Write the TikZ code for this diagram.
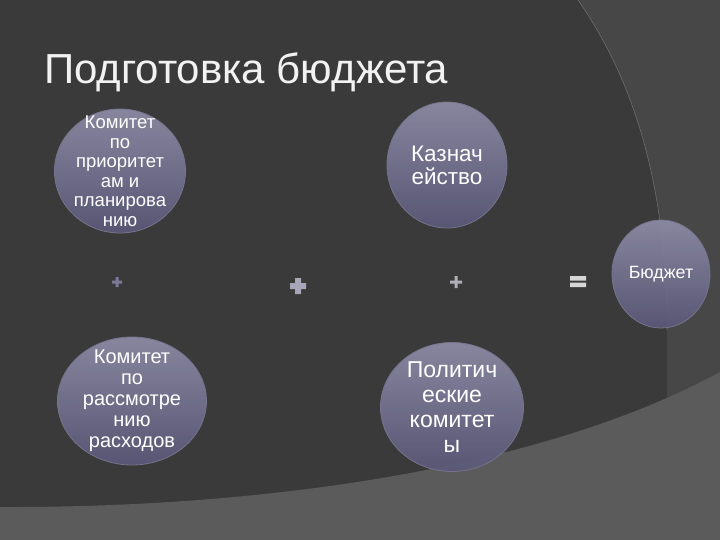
\documentclass[tikz,border=0pt]{standalone}
\usepackage{fontspec}
\setmainfont{Liberation Sans}
\usetikzlibrary{shapes.geometric}

\definecolor{slidebg}{RGB}{58,58,58}
\definecolor{bandcol}{RGB}{71,71,71}
\definecolor{floorcol}{RGB}{91,91,91}
\definecolor{bubtop}{RGB}{142,140,166}
\definecolor{bubmid}{RGB}{108,106,138}
\definecolor{bubbot}{RGB}{90,88,120}
\definecolor{bubrim}{RGB}{118,116,140}

\tikzset{
  bubble/.style={ellipse, draw=bubrim, line width=0.8pt, top color=bubtop,
    middle color=bubmid, bottom color=bubbot, fill opacity=0.93, inner sep=0pt},
  bubtext/.style={align=center, text=white, inner sep=0pt},
}

\begin{document}
\begin{tikzpicture}[x=1pt, y=-1pt]
\useasboundingbox (0,0) rectangle (720,540);

% background
\fill[slidebg] (0,0) rectangle (720,540);
\fill[bandcol] (578,0) .. controls (648,100) and (667,220) .. (667,330) -- (667,430) -- (720,430) -- (720,0) -- cycle;
\draw[color=bandcol!80!white, line width=0.6pt] (578,0) .. controls (648,100) and (667,220) .. (667,330);
\fill[floorcol] (0,507) .. controls (260,508) and (540,470) .. (720,372) -- (720,540) -- (0,540) -- cycle;

\node[anchor=base west, text=white!95!black, font=\fontsize{42}{50}\selectfont, inner sep=0pt] at (44,84) (title) {Подготовка бюджета};

\node[bubble, minimum width=131pt, minimum height=124pt] at (120,171) (prio) {};
\node[bubble, minimum width=120pt, minimum height=126pt] at (447,165) (treas) {};
\node[bubble, minimum width=98pt, minimum height=108pt] at (661,274) (budget) {};
\node[bubble, minimum width=149pt, minimum height=128pt] at (132,401) (spend) {};
\node[bubble, minimum width=143pt, minimum height=129pt] at (452,407) (polit) {};

\node[bubtext, font=\fontsize{18.5}{19.5}\selectfont] at (prio) (priotxt) {Комитет\\по\\приоритет\\ам и\\планирова\\нию};
\node[bubtext, font=\fontsize{22.5}{23}\selectfont] at (treas) (treastxt) {Казнач\\ейство};
\node[bubtext, font=\fontsize{17.8}{20}\selectfont] at (budget) (budgettxt) {Бюджет};
\node[bubtext, font=\fontsize{20}{21}\selectfont] at (spend) (spendtxt) {Комитет\\по\\рассмотре\\нию\\расходов};
\node[bubtext, font=\fontsize{23}{25}\selectfont] at (polit) (polittxt) {Политич\\еские\\комитет\\ы};

% operators
\fill[color={rgb,255:red,122;green,122;blue,152}] (112,280.5) rectangle (122,283.5) (115.5,277) rectangle (118.5,287);
\fill[color={rgb,255:red,166;green,166;blue,184}] (290,283) rectangle (306,289) (295,278) rectangle (301,294);
\fill[color={rgb,255:red,176;green,176;blue,182}] (450,280.5) rectangle (462,283.5) (454.5,276) rectangle (457.5,288);
\fill[color={rgb,255:red,214;green,214;blue,214}] (570,276) rectangle (586,280.5) (570,282.5) rectangle (586,287);
\end{tikzpicture}
\end{document}
